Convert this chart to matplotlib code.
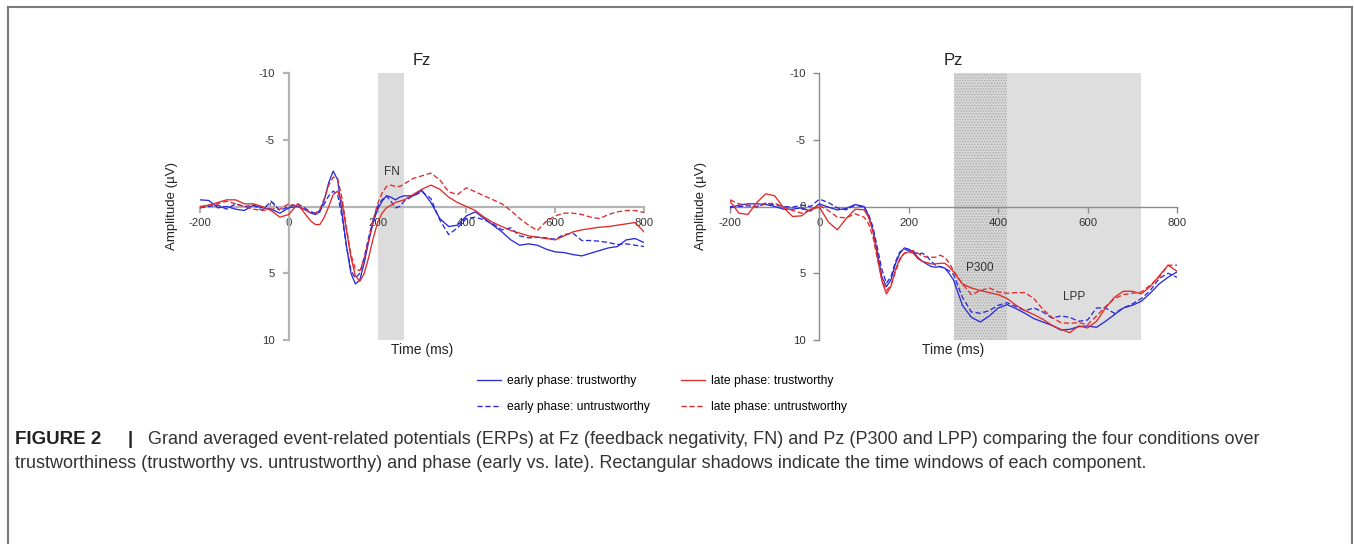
import matplotlib
matplotlib.use("Agg")
import matplotlib.pyplot as plt
from matplotlib.lines import Line2D

plt.rcParams["font.family"] = ["Liberation Sans", "DejaVu Sans"]
plt.rcParams["axes.unicode_minus"] = False
plt.rcParams["hatch.linewidth"] = 0.6

W, H = 1354, 544

# time points (ms)
t_fz = [-200, -180, -160, -140, -120, -100, -80, -60, -40, -20, 0, 20, 40,
        50, 60, 70, 80, 90, 100, 110, 120, 130, 140, 150, 160, 170, 180, 190,
        200, 210, 220, 230, 240, 250, 260,
        280, 300, 320, 340, 360, 380, 400, 420, 440, 460, 480, 500, 520, 540,
        560, 580, 600, 620, 640, 660, 680, 700, 720, 740, 760, 780, 800]

fz_early_trust = [-0.5, -0.45, 0.1, 0.0, 0.2, 0.3, -0.1, 0.1, 0.2, 0.5, 0.1, 0.0, 0.3,
                  0.5, 0.6, 0.4, -0.5, -1.8, -2.65, -2.0, 0.5, 3.0, 5.0, 5.8, 5.5, 4.2, 2.6, 1.2,
                  0.2, -0.4, -0.8, -0.7, -0.5, -0.7, -0.8,
                  -0.8, -1.2, -0.3, 0.9, 1.5, 1.4, 0.7, 0.4, 0.9, 1.4, 1.9, 2.5, 2.9, 2.8,
                  2.9, 3.2, 3.4, 3.45, 3.6, 3.7, 3.5, 3.3, 3.1, 3.0, 2.5, 2.4, 2.7]
fz_early_untrust = [0.1, 0.0, -0.1, 0.2, -0.2, 0.0, -0.1, 0.3, -0.4, 0.3, 0.0, -0.2, 0.2,
                    0.4, 0.5, 0.3, -0.2, -0.8, -1.15, -0.9, 0.8, 3.0, 4.8, 5.35, 5.0, 3.8, 2.3, 1.0,
                    0.0, -0.5, -0.8, -0.4, 0.1, 0.0, -0.4,
                    -0.8, -1.1, -0.6, 1.0, 2.1, 1.6, 0.9, 0.8, 1.0, 1.3, 1.75, 1.6, 2.2, 2.35,
                    2.3, 2.35, 2.45, 2.1, 2.0, 2.55, 2.55, 2.6, 2.7, 2.85, 2.8, 2.9, 3.0]
fz_late_trust = [0.0, -0.1, -0.3, -0.5, -0.5, -0.2, -0.2, 0.0, 0.3, 0.8, 0.6, -0.2, 0.7,
                 1.1, 1.35, 1.35, 0.8, 0.0, -0.9, -1.15, -0.3, 1.8, 3.8, 5.2, 5.6, 5.0, 3.8, 2.4,
                 1.2, 0.5, 0.1, -0.1, -0.3, -0.4, -0.5,
                 -0.9, -1.3, -1.6, -1.3, -0.7, -0.3, 0.0, 0.3, 0.8, 1.2, 1.5, 1.8, 2.0, 2.2,
                 2.3, 2.4, 2.5, 2.2, 1.9, 1.75, 1.65, 1.55, 1.5, 1.4, 1.3, 1.2, 1.9]
fz_late_untrust = [0.1, -0.1, -0.2, -0.4, -0.2, 0.0, 0.2, 0.3, 0.2, 0.2, -0.2, 0.0, 0.3,
                   0.5, 0.5, 0.2, -0.6, -1.6, -2.2, -2.1, -0.6, 1.6, 3.6, 4.7, 4.8, 3.9, 2.5, 1.0,
                   -0.2, -1.0, -1.5, -1.6, -1.5, -1.5, -1.7,
                   -2.1, -2.3, -2.5, -2.0, -1.1, -0.9, -1.4, -1.1, -0.8, -0.5, -0.2, 0.3, 0.9, 1.4,
                   1.8, 1.1, 0.7, 0.5, 0.5, 0.6, 0.8, 0.9, 0.6, 0.4, 0.3, 0.3, 0.45]

t_pz = [-200, -180, -160, -140, -120, -100, -80, -60, -40, -20, 0, 20, 40, 60, 80, 100,
        110, 120, 130, 140, 150, 160, 170, 180, 190, 200, 210, 220, 230, 240, 250, 260,
        270, 280, 290, 300,
        320, 340, 360, 380, 400, 420, 440, 460, 480, 500, 520, 540, 560, 580, 600,
        620, 640, 660, 680, 700, 720, 740, 760, 780, 800]

pz_early_trust = [0.1, -0.1, -0.2, -0.2, -0.15, 0.0, 0.2, 0.2, 0.1, 0.35, -0.2, 0.05, 0.25, 0.15, -0.15, 0.0,
                  0.7, 1.8, 3.5, 5.3, 6.0, 5.5, 4.3, 3.5, 3.1, 3.2, 3.4, 3.8, 4.1, 4.3, 4.5, 4.55,
                  4.5, 4.6, 5.0, 5.5,
                  7.4, 8.3, 8.65, 8.2, 7.6, 7.35, 7.65, 8.0, 8.4, 8.65, 8.9, 9.25, 9.2, 9.0, 8.95,
                  9.05, 8.6, 8.1, 7.6, 7.4, 7.1, 6.5, 5.8, 5.3, 4.9]
pz_early_untrust = [0.0, 0.0, -0.05, 0.0, -0.25, -0.1, 0.0, 0.05, -0.1, 0.0, -0.55, -0.3, 0.1, 0.25, -0.1, 0.05,
                    0.6, 1.55, 3.15, 4.75, 5.75, 5.25, 4.15, 3.4, 3.2, 3.3, 3.4, 3.55, 3.5, 3.7, 4.1, 4.4,
                    4.5, 4.65, 4.8, 5.1,
                    6.8, 7.9, 8.0, 7.8, 7.4, 7.2, 7.5, 7.8, 7.6, 7.9, 8.35, 8.2, 8.3, 8.6, 8.5,
                    7.6, 7.6, 8.0, 7.6, 7.3, 6.9, 6.3, 5.4, 5.0, 5.3]
pz_late_trust = [-0.4, 0.5, 0.6, -0.3, -0.95, -0.8, 0.1, 0.75, 0.7, 0.2, 0.05, 1.15, 1.75, 0.9, 0.2, 0.25,
                 0.8, 1.9, 3.8, 5.6, 6.55, 6.0, 4.75, 3.9, 3.5, 3.4, 3.5, 3.9, 4.1, 4.2, 4.3, 4.3,
                 4.25, 4.25, 4.5, 4.9,
                 5.8, 6.1, 6.3, 6.45, 6.6, 6.9, 7.4, 7.8, 8.1, 8.45, 8.9, 9.2, 9.45, 8.95, 9.1,
                 8.6, 7.6, 6.8, 6.35, 6.35, 6.55, 6.0, 5.2, 4.4, 4.85]
pz_late_untrust = [-0.5, -0.2, -0.1, 0.05, -0.2, -0.25, 0.05, 0.3, 0.5, 0.25, -0.1, 0.3, 0.8, 0.85, 0.55, 0.8,
                   1.3, 2.3, 4.0, 5.5, 6.3, 5.9, 4.9, 4.0, 3.5, 3.4, 3.3, 3.5, 3.7, 3.8, 3.8, 3.8,
                   3.65, 3.8, 4.2, 4.8,
                   5.8, 6.6, 6.3, 6.1, 6.4, 6.5, 6.45, 6.45, 6.9, 7.7, 8.3, 8.7, 8.75, 8.7, 8.85,
                   8.2, 7.5, 6.9, 6.6, 6.5, 6.4, 5.9, 5.3, 4.4, 4.4]

labels = ["early phase: trustworthy", "early phase: untrustworthy",
          "late phase: trustworthy", "late phase: untrustworthy"]
x_ticks = [-200, 0, 200, 400, 600, 800]
y_ticks = [-10, -5, 0, 5, 10]

BLUE = "#2b2bd9"
RED = "#e02a2a"
DASH = (0, (4, 2))


def px_box(left, top, right, bottom):
    return [left / W, 1 - bottom / H, (right - left) / W, (bottom - top) / H]


def draw_panel(ax, t, series, title, spine_color, spine_w):
    styles = [(BLUE, "-"), (BLUE, DASH), (RED, "-"), (RED, DASH)]
    for y, (c, ls), lab in zip(series, styles, labels):
        ax.plot(t, y, color=c, linestyle=ls, lw=0.95, label=lab, zorder=3)
    ax.set_xlim(-200, 800)
    ax.set_ylim(10, -10)
    for s in ["top", "right"]:
        ax.spines[s].set_visible(False)
    ax.spines["left"].set_position(("data", 0))
    ax.spines["bottom"].set_position(("data", 0))
    for s in ["left", "bottom"]:
        ax.spines[s].set_color(spine_color)
        ax.spines[s].set_linewidth(spine_w)
        ax.spines[s].set_zorder(2)
    ax.set_xticks(x_ticks)
    ax.set_yticks(y_ticks)
    ax.set_xticklabels([str(v) for v in x_ticks])
    ax.set_yticklabels([str(v) for v in y_ticks])
    ax.tick_params(axis="both", colors=spine_color, width=spine_w, length=4,
                   labelsize=8.2, labelcolor="#333333")
    ax.tick_params(axis="x", pad=4)
    ax.tick_params(axis="y", pad=6)
    ax.patch.set_alpha(0)
    ax.set_title(title, fontsize=12, pad=6, color="#222222")
    ax.text(0.5, -0.012, "Time (ms)", transform=ax.transAxes, ha="center",
            va="top", fontsize=10, color="#222222")
    ax.text(-0.064, 0.5, "Amplitude (\u00b5V)", transform=ax.transAxes,
            ha="center", va="center", rotation=90, fontsize=9.5, color="#222222")


fig = plt.figure(figsize=(W / 100, H / 100), dpi=100)

ax1 = fig.add_axes(px_box(200, 73, 644, 340))
ax1.axvspan(200, 260, facecolor="#dcdcdc", lw=0, zorder=0)
draw_panel(ax1, t_fz, [fz_early_trust, fz_early_untrust, fz_late_trust, fz_late_untrust],
           "Fz", "#b4b4b4", 1.6)
ax1.text(232, -2.6, "FN", ha="center", va="center", fontsize=8.5, color="#333333")

ax2 = fig.add_axes(px_box(730, 73, 1177, 340))
ax2.axvspan(300, 420, facecolor="#d6d6d6", edgecolor="#a8a8a8", hatch="......",
            lw=0, zorder=0)
ax2.axvspan(420, 720, facecolor="#dedede", lw=0, zorder=0)
draw_panel(ax2, t_pz, [pz_early_trust, pz_early_untrust, pz_late_trust, pz_late_untrust],
           "Pz", "#8c8c8c", 1.0)
ax2.text(358, 4.6, "P300", ha="center", va="center", fontsize=8.5, color="#333333")
ax2.text(570, 6.8, "LPP", ha="center", va="center", fontsize=8.5, color="#333333")

handles, labs = ax1.get_legend_handles_labels()
fig.legend(handles, labs, ncol=2, loc="center", bbox_to_anchor=(662 / W, 1 - 394 / H),
           frameon=False, fontsize=8.7, handlelength=2.0, handletextpad=0.5,
           columnspacing=2.6, labelspacing=1.2)

# outer frame
frame_kw = dict(color="#7a7a7a", lw=1.5, transform=fig.transFigure)
fig.add_artist(Line2D([8 / W, 1352 / W], [1 - 7 / H, 1 - 7 / H], **frame_kw))
fig.add_artist(Line2D([8 / W, 8 / W], [0, 1 - 7 / H], **frame_kw))
fig.add_artist(Line2D([1352 / W, 1352 / W], [0, 1 - 7 / H], **frame_kw))

# caption
cap_size = 13
fig.text(15 / W, 1 - 440 / H, "FIGURE 2", fontsize=13.5, fontweight="bold",
         va="center", color="#222222")
fig.text(128 / W, 1 - 440 / H, "|", fontsize=13.5, fontweight="bold",
         va="center", color="#222222")
fig.text(148 / W, 1 - 440 / H,
         "Grand averaged event-related potentials (ERPs) at Fz (feedback negativity, FN) "
         "and Pz (P300 and LPP) comparing the four conditions over",
         fontsize=cap_size, va="center", color="#333333")
fig.text(15 / W, 1 - 463 / H,
         "trustworthiness (trustworthy vs. untrustworthy) and phase (early vs. late). "
         "Rectangular shadows indicate the time windows of each component.",
         fontsize=cap_size, va="center", color="#333333")

fig.savefig("out.png", dpi=100)
